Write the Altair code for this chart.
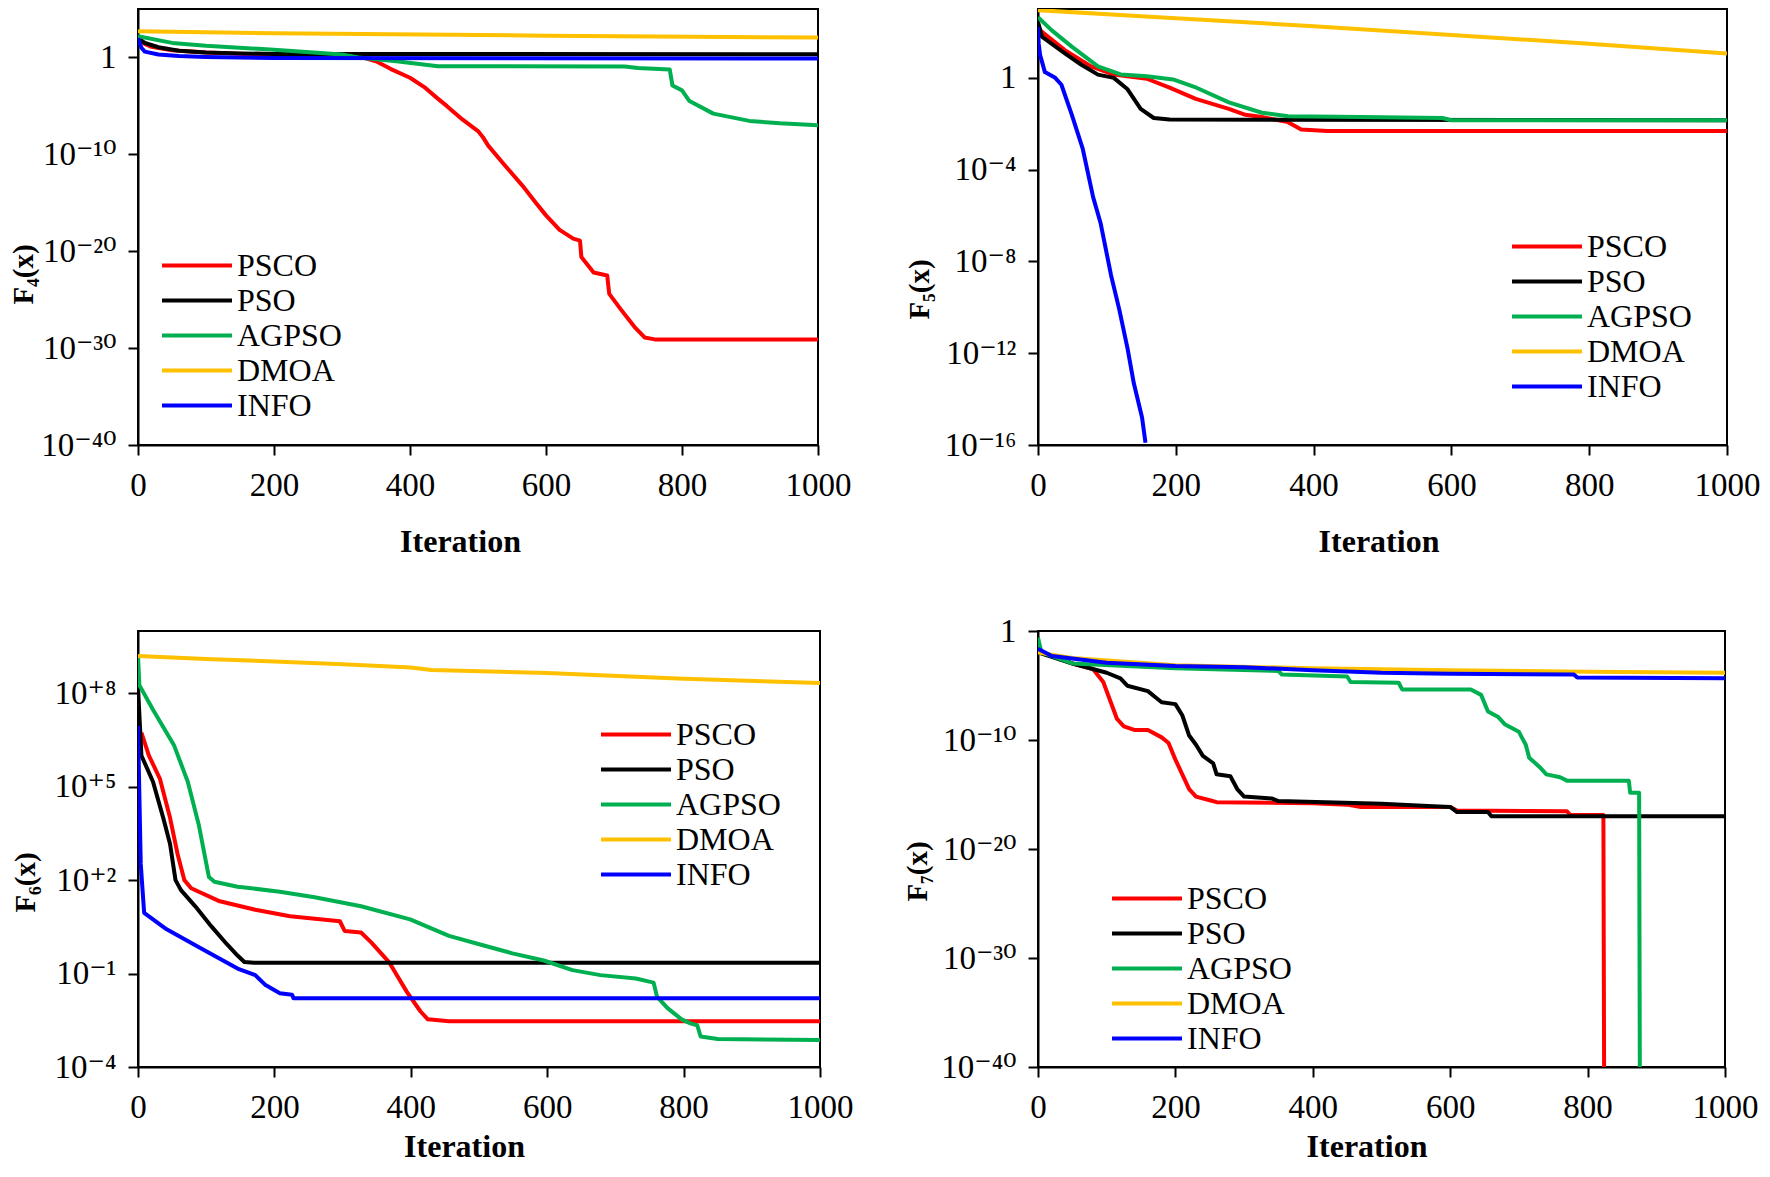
import altair as alt
import pandas as pd

ALGS = ["PSCO", "PSO", "AGPSO", "DMOA", "INFO"]
COLORS = ["#FF0000", "#000000", "#00B050", "#FFC000", "#0000FF"]
X_TICKS = [0, 200, 400, 600, 800, 1000]

# ---- values: (iteration, log10 of fitness) ----
F4_PSCO = [(0, 1.93), (10, 1.4), (20, 1.1), (50, 0.75), (100, 0.5), (200, 0.25), (300, 0.1), (330, 0.0),
           (350, -0.4), (372, -1.2), (400, -2.1), (421, -3.06), (440, -4.2), (454, -5.0), (477, -6.4),
           (500, -7.6), (507, -8.2), (515, -9.1), (539, -11.1), (565, -13.2), (585, -15.0), (600, -16.3),
           (620, -17.8), (640, -18.7), (650, -18.9), (652, -20.6), (670, -22.2), (690, -22.5), (693, -24.4),
           (710, -26.0), (730, -27.8), (745, -28.9), (760, -29.1), (1000, -29.1)]
F4_PSO = [(0, 2.0), (10, 1.5), (30, 1.05), (60, 0.7), (100, 0.5), (150, 0.42), (200, 0.36), (1000, 0.33)]
F4_AGPSO = [(0, 2.2), (50, 1.5), (100, 1.2), (200, 0.8), (300, 0.3), (324, 0.0), (380, -0.4), (441, -0.9),
            (716, -0.94), (735, -1.1), (782, -1.25), (786, -2.9), (800, -3.4), (811, -4.5), (846, -5.8),
            (899, -6.55), (944, -6.8), (1000, -7.0)]
F4_DMOA = [(0, 2.7), (200, 2.5), (600, 2.25), (1000, 2.05)]
F4_INFO = [(0, 2.0), (5, 1.0), (10, 0.6), (30, 0.3), (60, 0.15), (100, 0.05), (200, -0.05), (1000, -0.12)]

F5_PSCO = [(0, 2.3), (3, 2.07), (39, 1.21), (77, 0.5), (110, 0.14), (158, -0.04), (191, -0.43), (229, -0.92),
           (277, -1.35), (301, -1.61), (325, -1.71), (363, -1.93), (382, -2.25), (420, -2.32), (1000, -2.32)]
F5_PSO = [(0, 2.43), (6, 1.78), (39, 1.07), (63, 0.57), (87, 0.14), (110, 0.0), (130, -0.5), (149, -1.35),
          (168, -1.75), (191, -1.82), (1000, -1.85)]
F5_AGPSO = [(0, 2.64), (20, 2.07), (49, 1.36), (87, 0.5), (120, 0.15), (158, 0.07), (196, -0.07), (230, -0.43),
            (277, -1.07), (325, -1.52), (363, -1.67), (468, -1.71), (587, -1.75), (600, -1.85), (1000, -1.85)]
F5_DMOA = [(0, 2.95), (200, 2.6), (400, 2.25), (600, 1.87), (800, 1.49), (1000, 1.06)]
F5_INFO = [(0, 2.2), (1, 1.5), (3, 1.0), (10, 0.25), (25, 0.0), (34, -0.3), (49, -1.6), (65, -3.1), (80, -5.2),
           (91, -6.35), (106, -8.6), (118, -10.1), (130, -11.8), (139, -13.3), (151, -14.8), (156, -15.9)]

F6_PSCO = [(5, 6.74), (16, 6.0), (32, 5.26), (47, 4.0), (58, 2.84), (68, 2.0), (78, 1.74), (120, 1.32),
           (172, 1.05), (223, 0.84), (296, 0.68), (303, 0.37), (327, 0.32), (342, 0.0), (368, -0.63),
           (394, -1.58), (414, -2.21), (425, -2.47), (456, -2.53), (1000, -2.53)]
F6_PSO = [(0, 8.21), (5, 6.0), (22, 5.16), (37, 4.0), (47, 3.16), (55, 2.0), (63, 1.68), (84, 1.16),
          (107, 0.53), (130, -0.05), (146, -0.42), (156, -0.63), (170, -0.65), (1000, -0.65)]
F6_AGPSO = [(0, 9.21), (2, 8.26), (22, 7.47), (53, 6.32), (73, 5.16), (89, 3.79), (104, 2.1), (112, 1.95),
            (146, 1.79), (208, 1.63), (259, 1.45), (327, 1.16), (399, 0.74), (456, 0.21), (507, -0.1),
            (549, -0.35), (595, -0.58), (637, -0.89), (678, -1.05), (730, -1.16), (756, -1.29), (761, -1.74),
            (776, -2.1), (797, -2.47), (810, -2.6), (820, -2.66), (825, -3.02), (850, -3.1), (1000, -3.13)]
F6_DMOA = [(0, 9.2), (100, 9.1), (200, 9.02), (300, 8.93), (400, 8.83), (430, 8.75), (600, 8.65),
           (800, 8.47), (1000, 8.33)]
F6_INFO = [(0, 6.95), (4, 2.53), (9, 0.95), (42, 0.42), (94, -0.21), (146, -0.84), (172, -1.05),
           (187, -1.37), (208, -1.63), (226, -1.68), (228, -1.79), (1000, -1.79)]

F7_PSCO = [(0, -1.8), (50, -2.98), (80, -3.49), (95, -4.68), (105, -6.37), (115, -8.07), (125, -8.75),
           (140, -9.08), (160, -9.08), (180, -9.76), (190, -10.27), (200, -11.8), (210, -13.15), (220, -14.5),
           (230, -15.19), (250, -15.53), (260, -15.7), (400, -15.8), (450, -15.93), (470, -16.14), (600, -16.14),
           (610, -16.47), (770, -16.54), (775, -16.88), (823, -16.88), (824, -40.0)]
F7_PSO = [(0, -1.97), (50, -2.98), (100, -3.83), (120, -4.34), (130, -5.02), (160, -5.52), (170, -6.03),
          (180, -6.54), (200, -6.71), (210, -7.73), (220, -9.59), (230, -10.44), (240, -11.46), (255, -12.14),
          (260, -13.15), (280, -13.32), (290, -14.5), (300, -15.19), (340, -15.36), (350, -15.6), (500, -15.86),
          (560, -16.03), (600, -16.14), (610, -16.61), (655, -16.61), (660, -17.0), (1000, -17.0)]
F7_AGPSO = [(0, -0.61), (5, -1.97), (50, -2.98), (200, -3.42), (350, -3.66), (355, -4.0), (450, -4.17),
            (455, -4.68), (525, -4.75), (530, -5.36), (630, -5.36), (645, -5.86), (655, -7.39), (670, -7.9),
            (680, -8.58), (700, -9.25), (710, -10.44), (715, -11.63), (730, -12.47), (740, -13.15),
            (760, -13.42), (770, -13.73), (860, -13.73), (862, -14.85), (875, -14.85), (876, -40.0)]
F7_DMOA = [(0, -1.97), (50, -2.47), (200, -3.15), (400, -3.42), (600, -3.59), (800, -3.73), (1000, -3.83)]
F7_INFO = [(0, -1.63), (20, -2.3), (100, -2.92), (200, -3.22), (300, -3.32), (400, -3.59), (500, -3.83),
           (600, -3.93), (780, -4.0), (785, -4.27), (1000, -4.34)]

# y-axis ticks (log10) and their labels
F4_YTICKS = [-40, -30, -20, -10, 0]
F4_YLABELS = ["10⁻⁴⁰", "10⁻³⁰", "10⁻²⁰", "10⁻¹⁰", "1"]
F5_YTICKS = [-16, -12, -8, -4, 0]
F5_YLABELS = ["10⁻¹⁶", "10⁻¹²", "10⁻⁸", "10⁻⁴", "1"]
F6_YTICKS = [-4, -1, 2, 5, 8]
F6_YLABELS = ["10⁻⁴", "10⁻¹", "10⁺²", "10⁺⁵", "10⁺⁸"]
F7_YTICKS = [-40, -30, -20, -10, 0]
F7_YLABELS = ["10⁻⁴⁰", "10⁻³⁰", "10⁻²⁰", "10⁻¹⁰", "1"]

FONT = "Liberation Serif, DejaVu Serif, serif"


def panel(series, ytitle, yticks, ylabels, ydom, W, H, leg, ytx, yty, xtx, xty):
    rows = []
    for alg, pts in zip(ALGS, series):
        for k, (it, e) in enumerate(pts):
            rows.append({"alg": alg, "iter": it, "value": 10.0 ** e, "k": k})
    df = pd.DataFrame(rows)
    expr = "''"
    for t, lab in zip(yticks, ylabels):
        expr = f"round(log(datum.value)/LN10) == {t} ? '{lab}' : ({expr})"
    return alt.Chart(df).mark_line(strokeWidth=4, clip=True, strokeJoin="round").encode(
        x=alt.X("iter:Q", scale=alt.Scale(domain=[0, 1000], nice=False, zero=False),
                axis=alt.Axis(values=X_TICKS, title="Iteration", titleX=xtx, titleY=xty,
                              titleBaseline="top", titleAlign="center", format="d")),
        y=alt.Y("value:Q", scale=alt.Scale(type="log", domain=[10.0 ** ydom[0], 10.0 ** ydom[1]], nice=False),
                axis=alt.Axis(values=[10.0 ** t for t in yticks], labelExpr=expr, title=ytitle,
                              titleX=ytx, titleY=yty, titleAngle=270, titleBaseline="middle",
                              titleAlign="center", titleFontSize=29)),
        color=alt.Color("alg:N", scale=alt.Scale(domain=ALGS, range=COLORS),
                        legend=alt.Legend(title=None, orient="none", legendX=leg[0], legendY=leg[1],
                                          symbolType="stroke", symbolSize=4900, symbolStrokeWidth=4,
                                          labelFont=FONT, labelFontSize=32, labelColor="black",
                                          labelOffset=3, clipHeight=35, rowPadding=0, padding=0,
                                          labelLimit=300)),
        order=alt.Order("k:Q"),
    ).properties(width=W, height=H)


p4 = panel([F4_PSCO, F4_PSO, F4_AGPSO, F4_DMOA, F4_INFO], "F₄(x)", F4_YTICKS, F4_YLABELS, (-40, 5),
           680, 436, (22, 239), -115, 265, 680 / 2 - 18, 81)
p5 = panel([F5_PSCO, F5_PSO, F5_AGPSO, F5_DMOA, F5_INFO], "F₅(x)", F5_YTICKS, F5_YLABELS, (-16, 3),
           689, 436, (472, 220), -119, 280, 689 / 2 - 4, 81)
p6 = panel([F6_PSCO, F6_PSO, F6_AGPSO, F6_DMOA, F6_INFO], "F₆(x)", F6_YTICKS, F6_YLABELS, (-4, 10),
           682, 436, (461, 86), -113, 251, 682 / 2 - 15, 64)
p7 = panel([F7_PSCO, F7_PSO, F7_AGPSO, F7_DMOA, F7_INFO], "F₇(x)", F7_YTICKS, F7_YLABELS, (-40, 0),
           687, 436, (72, 250), -121, 240, 687 / 2 - 15, 64)

chart = alt.concat(p4, p5, p6, p7, columns=2, spacing=alt.RowColnumber(row=186, column=218),
                   bounds="flush", align="none").resolve_scale(
    x="independent", y="independent", color="independent"
).resolve_legend(color="independent").properties(padding=0).configure(
    font=FONT
).configure_view(
    stroke="black", strokeWidth=2
).configure_axis(
    grid=False, domainColor="black", domainWidth=2, tickColor="black", tickWidth=2, tickSize=10,
    labelColor="black", labelFont=FONT, labelFontSize=33, labelPadding=12, labelFlush=False,
    labelOverlap=False, labelBound=False, titleFont=FONT, titleFontSize=32, titleFontWeight="bold",
    titleColor="black", titlePadding=0
).configure_axisX(labelPadding=14)

chart.save("out.html", embed_options={"renderer": "svg", "actions": False})
